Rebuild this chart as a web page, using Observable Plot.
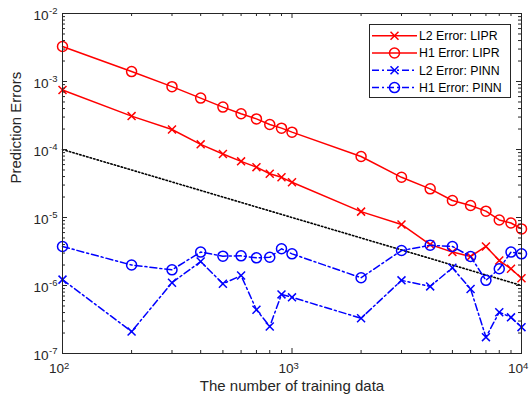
<!DOCTYPE html>
<html><head><meta charset="utf-8">
<script src="https://cdn.jsdelivr.net/npm/d3@7"></script>
<script src="https://cdn.jsdelivr.net/npm/@observablehq/plot@0.6"></script>
<style>body{margin:0;background:#fff} #chart{width:530px;height:402px}</style>
</head><body><div id="chart"></div>
<script>
// ---- data ----
const nTrain = [100,200,300,400,500,600,700,800,900,1000,2000,3000,4000,5000,6000,7000,8000,9000,10000];
const l2LIPR = [7.5e-4,3.1e-4,1.97e-4,1.19e-4,8.6e-5,6.7e-5,5.5e-5,4.4e-5,3.9e-5,3.3e-5,1.22e-5,7.9e-6,4.0e-6,3.1e-6,2.67e-6,3.75e-6,2.33e-6,1.76e-6,1.28e-6];
const h1LIPR = [3.27e-3,1.40e-3,8.4e-4,5.7e-4,4.2e-4,3.35e-4,2.82e-4,2.33e-4,2.06e-4,1.8e-4,7.9e-5,3.9e-5,2.64e-5,1.78e-5,1.5e-5,1.24e-5,9.2e-6,8.3e-6,6.8e-6];
const l2PINN = [1.22e-6,2.1e-7,1.1e-6,2.25e-6,1.06e-6,1.4e-6,4.4e-7,2.5e-7,7.4e-7,6.7e-7,3.3e-7,1.19e-6,9.7e-7,1.82e-6,8.9e-7,1.74e-7,4.05e-7,3.4e-7,2.44e-7];
const h1PINN = [3.75e-6,2.0e-6,1.7e-6,3.1e-6,2.7e-6,2.73e-6,2.55e-6,2.6e-6,3.47e-6,2.92e-6,1.3e-6,3.27e-6,3.9e-6,3.75e-6,2.67e-6,1.19e-6,1.76e-6,3.1e-6,2.92e-6];
const refX = [100, 10000];
const refY = [1e-4, 1e-6];
const seriesNames = ["L2 Error: LIPR", "H1 Error: LIPR", "L2 Error: PINN", "H1 Error: PINN"];
const xMajor = [100, 1000, 10000];
const xExp = ["2", "3", "4"];
const yMajor = [1e-7, 1e-6, 1e-5, 1e-4, 1e-3, 1e-2];
const yExp = ["-7", "-6", "-5", "-4", "-3", "-2"];
const xLabel = "The number of training data";
const yLabel = "Prediction Errors";

// minor ticks (2..9 within each decade)
const minorOf = majors => majors.slice(0, -1).flatMap(m => [2,3,4,5,6,7,8,9].map(k => k * m));
const xMinor = minorOf(xMajor);
const yMinor = minorOf(yMajor);

const W = 530, H = 402, mL = 62, mR = 9, mT = 13, mB = 49;
const pw = W - mL - mR, ph = H - mT - mB;
const ax = "#262626";
const fs = 13.6, efs = 9.5;
const FONT = "'Liberation Sans', Arial, Helvetica, sans-serif";

const table = nTrain.map((n, i) => ({n, l2LIPR: l2LIPR[i], h1LIPR: h1LIPR[i], l2PINN: l2PINN[i], h1PINN: h1PINN[i]}));
const ref = refX.map((x, i) => ({x, y: refY[i]}));

const styles = [
  {key: "l2LIPR", stroke: "#ff0000", symbol: "times", dash: null},
  {key: "h1LIPR", stroke: "#ff0000", symbol: "circle", dash: null},
  {key: "l2PINN", stroke: "#0000ff", symbol: "times", dash: "7,3,2,3"},
  {key: "h1PINN", stroke: "#0000ff", symbol: "circle", dash: "7,3,2,3"}
];
const rOf = s => s === "times" ? 3.7 : 5;

const marks = [
  Plot.line(ref, {x: "x", y: "y", stroke: "#000", strokeWidth: 1.6, strokeDasharray: "1.4,2.2"})
];
for (const s of styles) {
  marks.push(Plot.line(table, {x: "n", y: s.key, stroke: s.stroke, strokeWidth: 1.5, strokeDasharray: s.dash}));
  marks.push(Plot.dot(table, {x: "n", y: s.key, symbol: s.symbol, r: rOf(s.symbol), stroke: s.stroke, strokeWidth: 1.5, fill: "none"}));
}
marks.push(
  Plot.frame({stroke: ax, strokeWidth: 1}),
  // x ticks (bottom & top, inward)
  Plot.tickX(xMajor, {x: d => d, stroke: ax, insetTop: ph - 5}),
  Plot.tickX(xMajor, {x: d => d, stroke: ax, insetBottom: ph - 5}),
  Plot.tickX(xMinor, {x: d => d, stroke: ax, insetTop: ph - 3}),
  Plot.tickX(xMinor, {x: d => d, stroke: ax, insetBottom: ph - 3}),
  // y ticks (left & right, inward)
  Plot.tickY(yMajor, {y: d => d, stroke: ax, insetRight: pw - 5}),
  Plot.tickY(yMajor, {y: d => d, stroke: ax, insetLeft: pw - 5}),
  Plot.tickY(yMinor, {y: d => d, stroke: ax, insetRight: pw - 3}),
  Plot.tickY(yMinor, {y: d => d, stroke: ax, insetLeft: pw - 3}),
  // x tick labels
  Plot.text(xMajor, {x: d => d, text: () => "10", frameAnchor: "bottom", textAnchor: "end", dx: 1.5, dy: 19, fontSize: fs, fill: ax}),
  Plot.text(xMajor, {x: d => d, text: (d, i) => xExp[i], frameAnchor: "bottom", textAnchor: "start", dx: 1.5, dy: 15, fontSize: efs, fill: ax}),
  // y tick labels
  Plot.text(yMajor, {y: d => d, text: () => "10", frameAnchor: "left", textAnchor: "end", dx: -14, dy: 2, fontSize: fs, fill: ax}),
  Plot.text(yMajor, {y: d => d, text: (d, i) => yExp[i], frameAnchor: "left", textAnchor: "end", dx: -5, dy: -2.5, fontSize: efs, fill: ax}),
  // axis labels
  Plot.text([xLabel], {text: d => d, frameAnchor: "bottom", dy: 37, fontSize: 15, fill: ax}),
  Plot.text([yLabel], {text: d => d, frameAnchor: "left", rotate: -90, dx: -46, fontSize: 15, fill: ax})
);

const chart = Plot.plot({
  width: W, height: H,
  marginLeft: mL, marginRight: mR, marginTop: mT, marginBottom: mB,
  style: {fontFamily: FONT, background: "#fff", overflow: "visible"},
  x: {type: "log", domain: [100, 10000], axis: null},
  y: {type: "log", domain: [1e-7, 1e-2], axis: null},
  marks
});
document.getElementById("chart").appendChild(chart);

// ---- legend (inside the axes, top-right) ----
const svg = d3.select(chart);
const lg = svg.append("g").attr("font-family", FONT).attr("font-size", 12.3).attr("text-anchor", "start");
lg.append("rect").attr("x", 369.5).attr("y", 24.5).attr("width", 141).attr("height", 73)
  .attr("fill", "#fff").attr("stroke", ax).attr("stroke-width", 1);
styles.forEach((s, i) => {
  const cy = 35.7 + i * 17.3;
  const g = lg.append("g");
  g.append("line").attr("x1", 372).attr("x2", 417).attr("y1", cy).attr("y2", cy)
    .attr("stroke", s.stroke).attr("stroke-width", 1.5).attr("stroke-dasharray", s.dash);
  const sym = s.symbol === "times" ? d3.symbolTimes : d3.symbolCircle;
  const r = rOf(s.symbol);
  g.append("path").attr("transform", `translate(394.5,${cy})`)
    .attr("d", d3.symbol(sym, r * r * Math.PI)())
    .attr("fill", "none").attr("stroke", s.stroke).attr("stroke-width", 1.5);
  g.append("text").attr("x", 419).attr("y", cy).attr("dy", "0.35em").attr("fill", "#000").attr("text-anchor", "start").text(seriesNames[i]);
});
</script></body></html>
